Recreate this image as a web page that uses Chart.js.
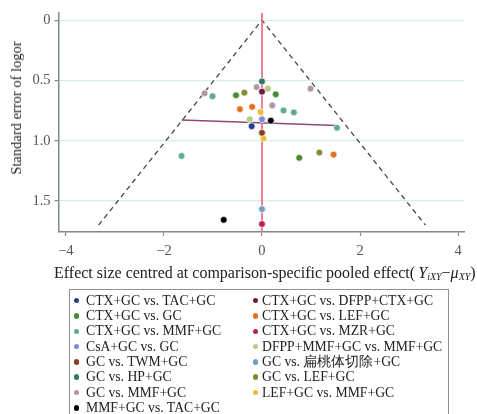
<!DOCTYPE html>
<html>
<head>
<meta charset="utf-8">
<script src="https://cdn.jsdelivr.net/npm/chart.js@4.4.1/dist/chart.umd.min.js"></script>
<style>
html,body{margin:0;padding:0;background:#fff;overflow:hidden;width:477px;height:414px;}
#wrap{position:relative;width:477px;height:414px;overflow:hidden;}
#c{position:absolute;left:0;top:0;}
#ytitle{position:absolute;left:15.5px;top:107.5px;transform:translate(-50%,-50%) rotate(-90deg);font:14.5px "Liberation Serif",serif;color:#222;white-space:nowrap;line-height:16px;}
#xtitle{position:absolute;left:54px;top:263.5px;font:16px "Liberation Serif",serif;color:#222;white-space:nowrap;line-height:18px;}
#xtitle i{font-style:italic;}
#xtitle sub{font-size:10px;font-style:italic;vertical-align:-2px;line-height:0;}
#legendBox{position:absolute;left:69px;top:289px;width:380px;height:140px;border:1.5px solid #8c9191;box-sizing:border-box;}
.lg{position:absolute;font:13.7px "Liberation Serif",serif;color:#222;white-space:nowrap;line-height:16px;}
.dot{position:absolute;width:5.5px;height:5.5px;border-radius:50%;}
</style>
</head>
<body>
<div id="wrap">
  <canvas id="c" width="477" height="285"></canvas>
  <div id="ytitle">Standard error of logor</div>
  <div id="xtitle">Effect size centred at comparison-specific pooled effect(&#8201;<i>Y</i><sub>iXY</sub>−<i>μ</i><sub>XY</sub>)</div>
  <div id="legendBox"></div>
</div>
<script>
// ---- data ----
const categories = [
  "CTX+GC vs. TAC+GC",
  "CTX+GC vs. GC",
  "CTX+GC vs. MMF+GC",
  "CsA+GC vs. GC",
  "GC vs. TWM+GC",
  "GC vs. HP+GC",
  "GC vs. MMF+GC",
  "MMF+GC vs. TAC+GC",
  "CTX+GC vs. DFPP+CTX+GC",
  "CTX+GC vs. LEF+GC",
  "CTX+GC vs. MZR+GC",
  "DFPP+MMF+GC vs. MMF+GC",
  "GC vs. 扁桃体切除+GC",
  "GC vs. LEF+GC",
  "LEF+GC vs. MMF+GC"
];
// centred effect size (x) per series
const effectSize = [
  [-0.21],
  [-0.53, 0.28, 0.76],
  [-1.01, 0.44, 0.65, 1.53, -1.64],
  [0],
  [0],
  [0],
  [-0.11, -1.17, 0.99, 0.21],
  [0.18, -0.78],
  [0],
  [-0.45, -0.20, 1.46],
  [0],
  [0.12, -0.25],
  [0],
  [-0.36, 1.17],
  [-0.03, 0.03]
];
// standard error (y) per series
const stdError = [
  [0.880],
  [0.623, 0.615, 1.142],
  [0.631, 0.749, 0.765, 0.893, 1.126],
  [0.822],
  [0.934],
  [0.508],
  [0.555, 0.607, 0.568, 0.707],
  [0.834, 1.656],
  [0.593],
  [0.738, 0.719, 1.115],
  [1.691],
  [0.568, 0.822],
  [1.568],
  [0.601, 1.098],
  [0.762, 0.981]
];
const xTicks = [-4, -2, 0, 2, 4];
const yTicks = [0, 0.5, 1.0, 1.5];
const funnelMaxSE = 1.7;
const pooledEffect = 0;
const regLineX = [-1.64, 1.52];
const regLineY = [0.828, 0.874];

// ---- styles ----
const palette = ["#223f8c","#4b8a35","#5eab8e","#7b8bd6","#8a3d22","#2d7a60","#b395aa","#000000",
                 "#6e1b3e","#e3701f","#be2145","#b6cc86","#6d9fc2","#858a35","#f0bb36"];
const serif = '"Liberation Serif", "Times New Roman", serif';
const axisColor = '#7f8a8a';
const X_MIN = -4.15, X_MAX = 4.13, Y_MIN = -0.062, Y_MAX = 1.757;

const scatterSets = categories.map((name, i) => ({
  label: name,
  type: 'scatter',
  data: effectSize[i].map((x, k) => ({x: x, y: stdError[i][k]})),
  backgroundColor: palette[i],
  borderColor: 'rgba(255,255,255,0.85)',
  borderWidth: 0.8,
  pointRadius: 3.4,
  pointHoverRadius: 3.4,
  order: 0
}));

const funnelX = 1.96 * funnelMaxSE;
const lineSets = [
  {
    label: 'funnel', type: 'line',
    data: [{x: pooledEffect - funnelX, y: funnelMaxSE}, {x: pooledEffect, y: 0}, {x: pooledEffect + funnelX, y: funnelMaxSE}],
    borderColor: '#454545', borderWidth: 1.3, borderDash: [5, 4], pointRadius: 0, fill: false, tension: 0, order: 5
  },
  {
    label: 'pooled', type: 'line',
    data: [{x: pooledEffect, y: Y_MIN}, {x: pooledEffect, y: Y_MAX}],
    borderColor: '#f0607a', borderWidth: 1.6, pointRadius: 0, fill: false, order: 4
  },
  {
    label: 'regression', type: 'line',
    data: regLineX.map((x, k) => ({x: x, y: regLineY[k]})),
    borderColor: '#8e4872', borderWidth: 1.5, pointRadius: 0, fill: false, order: 3
  }
];

const chart = new Chart(document.getElementById('c'), {
  type: 'scatter',
  data: {datasets: scatterSets.concat(lineSets)},
  options: {
    responsive: false,
    animation: false,
    devicePixelRatio: 1,
    layout: {padding: {top: 10.5, right: 12.5, bottom: 0, left: 0}},
    plugins: {legend: {display: false}, tooltip: {enabled: false}},
    scales: {
      x: {
        type: 'linear', position: 'bottom', min: X_MIN, max: X_MAX,
        afterFit: s => { s.height = 53; },
        afterBuildTicks: s => { s.ticks = xTicks.map(v => ({value: v})); },
        grid: {drawOnChartArea: false, drawTicks: true, tickLength: 4, tickColor: axisColor, tickWidth: 1.2},
        border: {display: true, color: axisColor, width: 1.5},
        ticks: {
          padding: 6, color: '#555',
          font: {family: serif, size: 14.5},
          callback: v => (v < 0 ? '−' + Math.abs(v) : String(v))
        }
      },
      y: {
        type: 'linear', reverse: true, min: Y_MIN, max: Y_MAX,
        afterFit: s => { s.width = 58.5; },
        afterBuildTicks: s => { s.ticks = yTicks.map(v => ({value: v})); },
        grid: {color: '#d9eee8', lineWidth: 1.2, drawTicks: true, tickLength: 4, tickColor: axisColor, tickWidth: 1.2},
        border: {display: true, color: axisColor, width: 1.5},
        ticks: {
          padding: 4, color: '#555',
          font: {family: serif, size: 14.5},
          callback: v => (v === 0 ? '0' : v.toFixed(1))
        }
      }
    }
  }
});

// ---- HTML legend built from the chart datasets (two columns, column-major) ----
const wrap = document.getElementById('wrap');
const perCol = 8;
chart.data.datasets.slice(0, categories.length).forEach((ds, i) => {
  const col = Math.floor(i / perCol), row = i % perCol;
  const cy = 300.7 + 15.3 * row;
  const dotX = col ? 255.3 : 76.7;
  const textX = col ? 262 : 86;
  const d = document.createElement('div');
  d.className = 'dot';
  d.style.background = ds.backgroundColor;
  d.style.left = (dotX - 2.75) + 'px';
  d.style.top = (cy - 2.75) + 'px';
  wrap.appendChild(d);
  const t = document.createElement('div');
  t.className = 'lg';
  t.textContent = ds.label;
  t.style.left = textX + 'px';
  t.style.top = (cy - 8) + 'px';
  wrap.appendChild(t);
});
</script>
</body>
</html>
